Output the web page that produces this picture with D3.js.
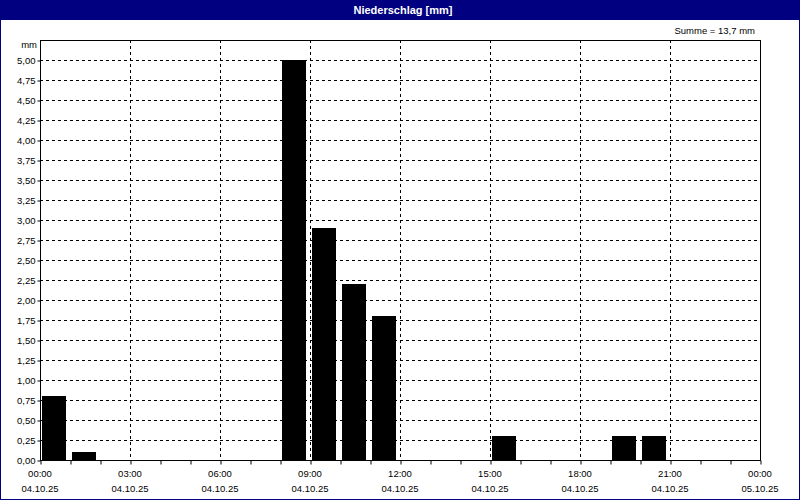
<!DOCTYPE html>
<html><head><meta charset="utf-8">
<script src="https://cdn.jsdelivr.net/npm/d3@7"></script>
<style>
body{margin:0;background:#fff;}
svg{display:block;font-family:"Liberation Sans",Arial,sans-serif;}
</style></head>
<body>
<svg id="c" width="800" height="500"></svg>
<script>
const title = "Niederschlag [mm]";
const sumLabel = "Summe = 13,7 mm";
const unitLabel = "mm";
const hours = [0,1,2,3,4,5,6,7,8,9,10,11,12,13,14,15,16,17,18,19,20,21,22,23];
const values = [0.8,0.1,0,0,0,0,0,0,5.0,2.9,2.2,1.8,0,0,0,0.3,0,0,0,0.3,0.3,0,0,0];
const xTickHours = [0,3,6,9,12,15,18,21,24];
const xTimeLabels = ["00:00","03:00","06:00","09:00","12:00","15:00","18:00","21:00","00:00"];
const xDateLabels = ["04.10.25","04.10.25","04.10.25","04.10.25","04.10.25","04.10.25","04.10.25","04.10.25","05.10.25"];
const yTicks = [0,0.25,0.5,0.75,1,1.25,1.5,1.75,2,2.25,2.5,2.75,3,3.25,3.5,3.75,4,4.25,4.5,4.75,5];

const svg = d3.select("#c");
const W=800,H=500;
const L=40,R=760,T=40,B=460;
const navy="#000080";

const x = d3.scaleLinear().domain([0,24]).range([L,R]);
const y = d3.scaleLinear().domain([0,5.25]).range([B,T]);

svg.append("rect").attr("x",0).attr("y",0).attr("width",W).attr("height",H).attr("fill","#fff");
svg.append("rect").attr("x",0).attr("y",0).attr("width",W).attr("height",20).attr("fill",navy);
svg.append("rect").attr("x",0.5).attr("y",0.5).attr("width",W-1).attr("height",H-1).attr("fill","none").attr("stroke",navy);
svg.append("text").attr("x",W/2+3).attr("y",14).attr("text-anchor","middle").attr("fill","#fff")
  .attr("font-weight","bold").attr("font-size","11px").text(title);
svg.append("text").attr("x",755).attr("y",34).attr("text-anchor","end").attr("fill","#000")
  .attr("font-size","9.5px").text(sumLabel);
svg.append("text").attr("x",37).attr("y",48).attr("text-anchor","end").attr("fill","#000")
  .attr("font-size","9.5px").text(unitLabel);

// horizontal grid
svg.append("g").selectAll("line").data(yTicks.filter(d=>d>0)).join("line")
  .attr("x1",L).attr("x2",R).attr("y1",d=>Math.round(y(d))+0.5).attr("y2",d=>Math.round(y(d))+0.5)
  .attr("stroke","#000").attr("stroke-dasharray","3,3");
// vertical grid
svg.append("g").selectAll("line").data(xTickHours.filter(d=>d>0&&d<24)).join("line")
  .attr("x1",d=>Math.round(x(d))+0.5).attr("x2",d=>Math.round(x(d))+0.5).attr("y1",T).attr("y2",B)
  .attr("stroke","#000").attr("stroke-dasharray","3,3");

// bars
const bw = x(1)-x(0);
svg.append("g").selectAll("rect").data(hours.map((h,i)=>({h,v:values[i]})).filter(d=>d.v>0)).join("rect")
  .attr("x",d=>x(d.h)+2).attr("width",bw-6)
  .attr("y",d=>y(d.v)).attr("height",d=>y(0)-y(d.v)).attr("fill","#000");

// frame
svg.append("rect").attr("x",L+0.5).attr("y",T+0.5).attr("width",R-L).attr("height",B-T)
  .attr("fill","none").attr("stroke","#000");

// y axis
const yAxis = d3.axisLeft(y).tickValues(yTicks).tickSize(3).tickPadding(2)
  .tickFormat(d=>d3.format(".2f")(d).replace(".",","));
const gy = svg.append("g").attr("transform",`translate(${L+0.5},0.5)`).call(yAxis);
gy.select(".domain").remove();
gy.selectAll("text").attr("font-size","9.5px").attr("font-family","Liberation Sans,Arial,sans-serif").attr("fill","#000");

// x axis hourly ticks
const xAxis = d3.axisBottom(x).tickValues(d3.range(0,25)).tickSize(4).tickFormat("");
const gx = svg.append("g").attr("transform",`translate(0.5,${B+0.5})`).call(xAxis);
gx.select(".domain").remove();

const lab = svg.append("g").selectAll("g").data(xTickHours.map((h,i)=>({h,t:xTimeLabels[i],d:xDateLabels[i]}))).join("g");
lab.append("text").attr("x",d=>x(d.h)).attr("y",477).attr("text-anchor","middle").attr("font-size","9.5px").attr("fill","#000").text(d=>d.t);
lab.append("text").attr("x",d=>x(d.h)).attr("y",492).attr("text-anchor","middle").attr("font-size","9.5px").attr("fill","#000").text(d=>d.d);
</script>
</body></html>
